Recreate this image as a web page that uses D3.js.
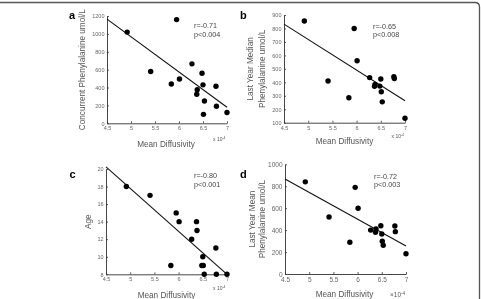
<!DOCTYPE html>
<html><head><meta charset="utf-8">
<script src="https://cdn.jsdelivr.net/npm/d3@7"></script>
<style>
body{margin:0;background:#fff;}
svg{display:block;font-family:"Liberation Sans",Arial,sans-serif;will-change:transform;}
text{-webkit-font-smoothing:antialiased;}
</style></head><body>
<svg id="c" width="481" height="299"></svg>
<script>
// Shared x values (Mean Diffusivity, x10^-4)
const meanDiffusivity = [4.92, 5.41, 5.84, 5.95, 6.01, 6.27, 6.37, 6.38, 6.48, 6.50, 6.51, 6.53, 6.77, 6.78, 7.00];
const concurrentPhe   = [1020, 580, 440, 1160, 495, 665, 325, 375, 560, 430, 100, 250, 415, 190, 120];
const medianPhe       = [855, 410, 285, 800, 560, 435, 370, 385, 372, 425, 330, 255, 442, 428, 133];
const age             = [18, 17, 9, 15, 14, 12, 14, 13, 9, 10, 9, 8, 11, 8, 8];
const meanPhe         = [840, 520, 290, 790, 600, 400, 380, 410, 440, 365, 298, 262, 437, 386, 185];
const fitX = [4.5, 7];
const fitA = [1165, 180];
const fitB = [832, 263];
const fitC = [20.25, 8.0];
const fitD = [866, 255];
const xTicks = [4.5, 5, 5.5, 6, 6.5, 7];
const xTickLabels = ["4.5", "5", "5.5", "6", "6.5", "7"];
const yTicksA = [0, 200, 400, 600, 800, 1000, 1200];
const yTicksB = [100, 200, 300, 400, 500, 600, 700, 800, 900];
const yTicksC = [8, 10, 12, 14, 16, 18, 20];
const yTicksD = [0, 200, 400, 600, 800, 1000];
const stats = [["r=-0.71", "p<0.004"], ["r=-0.65", "p<0.008"], ["r=-0.80", "p<0.001"], ["r=-0.72", "p<0.003"]];

const svg = d3.select("#c");

// outer frame (top and right edges with rounded corner)
svg.append("path")
  .attr("d", "M0,2.5 L475,2.5 Q479.5,2.5 479.5,7 L479.5,299")
  .attr("fill", "none").attr("stroke", "#555").attr("stroke-width", 1.3);

const panels = [
  {letter:"a", lx:69, ly:18.5, xr:[107,227], yr:[123.3,16], yd:[0,1200], yt:yTicksA, ys:concurrentPhe, fit:fitA,
   ylab:["Concurrent Phenylalanine umol/L"], ylx:[85], st:stats[0], sx:194, sy:28,
   xlab:{x:166, y:147}, exp:{x:213, y:141}, tfs:5.5, expStyle:"x 10"},
  {letter:"b", lx:240, ly:19, xr:[284,405], yr:[122.7,15], yd:[100,900], yt:yTicksB, ys:medianPhe, fit:fitB,
   ylab:["Last Year Median","Phenylalanine umol/L"], ylx:[253,264.5], st:stats[1], sx:373, sy:28.5,
   xlab:{x:344.5, y:144}, exp:{x:391.5, y:138}, tfs:5.5, expStyle:"x 10"},
  {letter:"c", lx:69.5, ly:177.5, xr:[106,227], yr:[274.3,169], yd:[8,20], yt:yTicksC, ys:age, fit:fitC,
   ylab:["Age"], ylx:[91], st:stats[2], sx:194, sy:178,
   xlab:{x:166.5, y:297.5}, exp:{x:213, y:290}, tfs:5.5, expStyle:"x 10"},
  {letter:"d", lx:240, ly:177.5, xr:[285,406], yr:[274,164.3], yd:[0,1000], yt:yTicksD, ys:meanPhe, fit:fitD,
   ylab:["Last Year Mean","Phenylalanine umol/L"], ylx:[254.5,264.5], st:stats[3], sx:374, sy:178.5,
   xlab:{x:344.5, y:297}, exp:{x:390, y:297}, tfs:6.5, expStyle:"×10"}
];

panels.forEach(p => {
  const g = svg.append("g");
  const x = d3.scaleLinear().domain([4.5, 7]).range(p.xr);
  const y = d3.scaleLinear().domain(p.yd).range(p.yr);

  const xa = g.append("g").attr("transform", `translate(0,${p.yr[0]})`)
    .call(d3.axisBottom(x).tickValues(xTicks).tickFormat((d,i)=>xTickLabels[i]).tickSize(-2).tickPadding(3).tickSizeOuter(0));
  const ya = g.append("g").attr("transform", `translate(${p.xr[0]},0)`)
    .call(d3.axisLeft(y).tickValues(p.yt).tickFormat(d3.format("d")).tickSize(-2).tickPadding(2.5).tickSizeOuter(0));
  [xa, ya].forEach(a => {
    a.select(".domain").attr("stroke", "#333").attr("stroke-width", 0.9);
    a.selectAll(".tick line").attr("stroke", "#333").attr("stroke-width", 0.8);
    a.selectAll(".tick text").attr("fill", "#666").style("font-size", p.tfs + "px").style("font-family", "'Liberation Sans',Arial,sans-serif");
  });

  // fit line
  g.append("line")
    .attr("x1", x(fitX[0])).attr("y1", y(p.fit[0]))
    .attr("x2", x(fitX[1])).attr("y2", y(p.fit[1]))
    .attr("stroke", "#111").attr("stroke-width", 1.1);

  // points
  g.selectAll("circle").data(meanDiffusivity).enter().append("circle")
    .attr("cx", d => x(d)).attr("cy", (d,i) => y(p.ys[i])).attr("r", 2.7).attr("fill", "#000");

  // letter
  g.append("text").attr("x", p.lx).attr("y", p.ly).text(p.letter)
    .style("font-size", "11px").style("font-weight", "bold").attr("fill", "#000");

  // stats text
  g.append("text").attr("x", p.sx).attr("y", p.sy).text(p.st[0]).style("font-size", "7.2px").attr("fill", "#444");
  g.append("text").attr("x", p.sx).attr("y", p.sy + 8.5).text(p.st[1]).style("font-size", "7.2px").attr("fill", "#444");

  // x label
  g.append("text").attr("x", p.xlab.x).attr("y", p.xlab.y).attr("text-anchor", "middle")
    .text("Mean Diffusivity").style("font-size", "8.2px").attr("fill", "#555");

  // exponent
  const e = g.append("text").attr("x", p.exp.x).attr("y", p.exp.y).attr("fill", "#555")
    .style("font-size", (p.letter === "d" ? 6.5 : 5) + "px");
  e.append("tspan").text(p.expStyle);
  e.append("tspan").attr("dy", -2.5).style("font-size", (p.letter === "d" ? 4.5 : 3.5) + "px").text("-4");

  // y label
  const cy = (p.yr[0] + p.yr[1]) / 2;
  p.ylab.forEach((t, i) => {
    g.append("text").attr("transform", `translate(${p.ylx[i]},${cy}) rotate(-90)`)
      .attr("text-anchor", "middle").text(t).style("font-size", "8.2px").attr("fill", "#555");
  });
});
</script>
</body></html>
